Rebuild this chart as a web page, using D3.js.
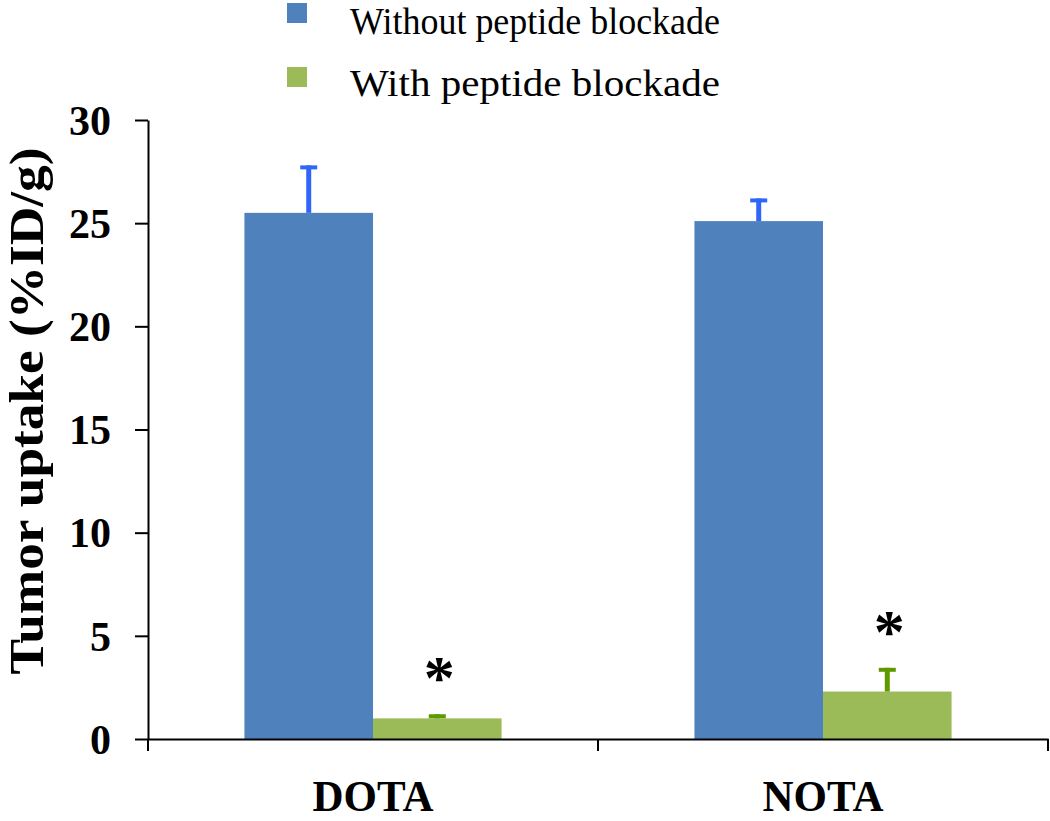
<!DOCTYPE html>
<html><head><meta charset="utf-8">
<script src="https://cdn.jsdelivr.net/npm/d3@7/dist/d3.min.js"></script>
<style>body{margin:0;background:#fff}svg{display:block}</style>
</head><body>
<svg id="c" width="1050" height="821"></svg>
<script>
const categories = ["DOTA", "NOTA"];
const seriesNames = ["Without peptide blockade", "With peptide blockade"];
const withoutValues = [25.5, 25.1];
const withoutErrors = [2.3, 1.1];
const withValues = [1.0, 2.3];
const withErrors = [0.2, 1.15];
const significant = [true, true];
const yTicks = [0, 5, 10, 15, 20, 25, 30];

const barColors = ["#4F81BD", "#9BBB59"];
const errColors = ["#2F66F6", "#5F9900"];
const seriesValues = [withoutValues, withValues];
const seriesErrors = [withoutErrors, withErrors];

const svg = d3.select("#c");
const mLeft = 148, mRight = 1048, mTop = 120, mBottom = 739;
const serif = "Liberation Serif, Times New Roman, serif";

const x0 = d3.scaleBand().domain(categories).range([mLeft, mRight]).padding(0);
const gapRatio = 1.5; // gap width relative to one bar
const groupW = x0.bandwidth() * 2 / (2 + gapRatio);
const off = (x0.bandwidth() - groupW) / 2;
const x1 = d3.scaleBand().domain(d3.range(seriesNames.length)).range([off, off + groupW]).padding(0);
const y = d3.scaleLinear().domain([0, 30]).range([mBottom, mTop]);

// bars
seriesNames.forEach((s, si) => {
  svg.append("g").selectAll("rect").data(categories).join("rect")
    .attr("x", c => x0(c) + x1(si))
    .attr("width", x1.bandwidth())
    .attr("y", (c, i) => y(seriesValues[si][i]))
    .attr("height", (c, i) => y(0) - y(seriesValues[si][i]))
    .attr("fill", barColors[si]);
});

// error bars
seriesNames.forEach((s, si) => {
  const g = svg.append("g");
  categories.forEach((c, i) => {
    const cx = x0(c) + x1(si) + x1.bandwidth() / 2;
    const v = seriesValues[si][i], e = seriesErrors[si][i];
    g.append("line").attr("x1", cx).attr("x2", cx)
      .attr("y1", y(v)).attr("y2", y(v + e))
      .attr("stroke", errColors[si]).attr("stroke-width", 5);
    g.append("line").attr("x1", cx - 8.5).attr("x2", cx + 8.5)
      .attr("y1", y(v + e) + 2).attr("y2", y(v + e) + 2)
      .attr("stroke", errColors[si]).attr("stroke-width", 4);
  });
});

// asterisks
categories.forEach((c, i) => {
  if (!significant[i]) return;
  const cx = x0(c) + x1(1) + x1.bandwidth() / 2;
  const topY = y(withValues[i] + withErrors[i]);
  svg.append("text").attr("x", cx + 2).attr("y", topY - 46 + 30)
    .attr("text-anchor", "middle")
    .attr("font-family", serif).attr("font-weight", "bold")
    .attr("font-size", 62).attr("fill", "#000").text("*");
});

// y axis
const yAxis = svg.append("g").attr("transform", `translate(${mLeft},0)`)
  .call(d3.axisLeft(y).tickValues(yTicks).tickSize(13).tickPadding(24).tickSizeOuter(0));
yAxis.select(".domain").attr("stroke", "#000").attr("stroke-width", 2);
yAxis.selectAll(".tick line").attr("stroke", "#000").attr("stroke-width", 2);
yAxis.selectAll(".tick text")
  .attr("font-family", serif)
  .attr("font-weight", "bold").attr("font-size", 42).attr("fill", "#000")
  .attr("dy", "0.34em");

// x axis
const xAxis = svg.append("g").attr("transform", `translate(0,${mBottom})`)
  .call(d3.axisBottom(x0).tickSize(0).tickSizeOuter(0).tickFormat(""));
xAxis.select(".domain").attr("stroke", "#000").attr("stroke-width", 2);
const xBounds = [mLeft].concat(categories.map(c => x0(c) + x0.bandwidth()));
svg.append("g").selectAll("line").data(xBounds).join("line")
  .attr("x1", d => d).attr("x2", d => d)
  .attr("y1", mBottom).attr("y2", mBottom + 12)
  .attr("stroke", "#000").attr("stroke-width", 2);
svg.append("g").selectAll("text").data(categories).join("text")
  .attr("x", c => x0(c) + x0.bandwidth() / 2)
  .attr("y", 811)
  .attr("text-anchor", "middle")
  .attr("font-family", serif)
  .attr("font-weight", "bold").attr("font-size", 44)
  .attr("textLength", 121).attr("lengthAdjust", "spacingAndGlyphs")
  .text(c => c);

// y label
svg.append("text")
  .attr("transform", `translate(43,411) rotate(-90)`)
  .attr("text-anchor", "middle")
  .attr("font-family", serif)
  .attr("font-weight", "bold").attr("font-size", 48)
  .attr("textLength", 527).attr("lengthAdjust", "spacingAndGlyphs")
  .text("Tumor uptake (%ID/g)");

// legend
const legY = [3, 67], legBase = [34, 96];
seriesNames.forEach((s, si) => {
  svg.append("rect").attr("x", 287).attr("y", legY[si]).attr("width", 20).attr("height", 20)
    .attr("fill", barColors[si]);
  svg.append("text").attr("x", 350).attr("y", legBase[si])
    .attr("font-family", serif)
    .attr("font-size", 38)
    .attr("textLength", 370).attr("lengthAdjust", "spacingAndGlyphs")
    .attr("fill", "#000").text(s);
});
</script>
</body></html>
